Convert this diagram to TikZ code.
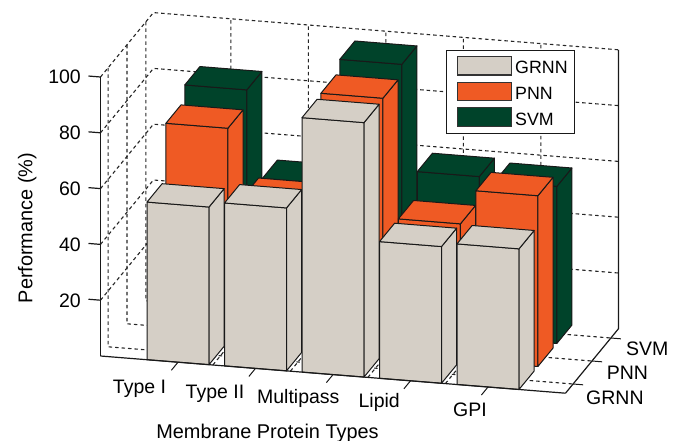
\documentclass[tikz,border=0pt]{standalone}
\usepackage{fontspec}
\setmainfont{Liberation Sans}
\definecolor{grnncol}{HTML}{D5CFC6}
\definecolor{pnncol}{HTML}{EF5A24}
\definecolor{svmcol}{HTML}{00432A}
\tikzset{
  gridline/.style={draw=black!85, line width=1.1pt, dash pattern=on 3.5pt off 3pt},
  axisline/.style={draw=black!90, line width=1.2pt},
  barface/.style={draw=black!90, line width=1pt, line join=round},
  ticklabel/.style={font=\fontsize{19.5}{22}\selectfont, inner sep=0pt},
  titlelabel/.style={font=\fontsize{19.9}{23}\selectfont, inner sep=0pt},
  legendlabel/.style={font=\fontsize{17.8}{20}\selectfont, inner sep=0pt},
  swatch/.style={draw=black!80, line width=1.1pt},
}
% one 3-D bar: #1 category position, #2 depth position, #3 height, #4 colour
\newcommand{\barbox}[4]{%
  \pgfmathsetmacro{\xa}{#1-0.4}\pgfmathsetmacro{\xb}{#1+0.4}%
  \pgfmathsetmacro{\ya}{#2-0.4}\pgfmathsetmacro{\yb}{#2+0.4}%
  \filldraw[barface, fill=#4] (\xa,\ya,0) -- (\xb,\ya,0) -- (\xb,\ya,#3) -- (\xa,\ya,#3) -- cycle;
  \filldraw[barface, fill=#4] (\xb,\ya,0) -- (\xb,\yb,0) -- (\xb,\yb,#3) -- (\xb,\ya,#3) -- cycle;
  \filldraw[barface, fill=#4] (\xa,\ya,#3) -- (\xb,\ya,#3) -- (\xb,\yb,#3) -- (\xa,\yb,#3) -- cycle;
}
\begin{document}
\begin{tikzpicture}
\useasboundingbox (0,0) rectangle (685pt,-441pt);
\begin{scope}[shift={(89.16pt,-369.8pt)}, x={(77.5pt,-6.2pt)}, y={(18.9pt,23pt)}, z={(0pt,2.79pt)}]
  % grid on the left wall, back wall and floor
  \foreach \h in {20,40,60,80,100} {
    \draw[gridline] (0,0.6,\h) -- (0,3.4,\h) -- (6,3.4,\h);
  }
  \foreach \s in {1,2,3} {
    \draw[gridline] (0,\s,100) -- (0,\s,0) -- (6,\s,0);
  }
  \foreach \k in {1,...,5} {
    \draw[gridline] (\k,0.6,0) -- (\k,3.4,0) -- (\k,3.4,100);
  }
  \foreach \k in {1.45,2.45,3.45,4.45} {
    \draw[gridline] (\k,0.6,0) -- (\k,3.4,0);
  }
  % axis edges
  \draw[axisline] (0,0.6,100) -- (0,0.6,0);
  \draw[axisline] (6,0.6,0) -- (6,3.4,0) -- (6,3.4,100);
  % tick marks
  \foreach \h in {20,40,60,80,100} {
    \draw[axisline] (0,0.6,\h) -- (-0.155,0.6,\h);
  }
  \foreach \k in {1,...,5} {
    \draw[axisline, line width=1pt] (\k,0.6,0) -- (\k,0.25,0);
  }
  \foreach \s in {1,2,3} {
    \draw[axisline, line width=1pt] (6,\s,0) -- (6.13,\s,0);
  }
  % SVM row
  \barbox{1}{3}{82}{svmcol}
  \barbox{2}{3}{50.7}{svmcol}
  \barbox{3}{3}{95.6}{svmcol}
  \barbox{4}{3}{57.6}{svmcol}
  \barbox{5}{3}{56.3}{svmcol}
  % PNN row
  \barbox{1}{2}{76.5}{pnncol}
  \barbox{2}{2}{52.5}{pnncol}
  \barbox{3}{2}{91.7}{pnncol}
  \barbox{4}{2}{48.9}{pnncol}
  \barbox{5}{2}{61.2}{pnncol}
  % GRNN row
  \barbox{1}{1}{56.5}{grnncol}
  \barbox{2}{1}{58.4}{grnncol}
  \barbox{3}{1}{91.2}{grnncol}
  \barbox{4}{1}{49}{grnncol}
  \barbox{5}{1}{50.4}{grnncol}
  % front edge of the floor
  \draw[axisline] (0,0.6,0) -- (6,0.6,0);
\end{scope}

% value axis labels
\node[ticklabel, anchor=base east] (z100) at (81pt,-83.8pt) {100};
\node[ticklabel, anchor=base east] (z80) at (81pt,-139.6pt) {80};
\node[ticklabel, anchor=base east] (z60) at (81pt,-195.4pt) {60};
\node[ticklabel, anchor=base east] (z40) at (81pt,-251.2pt) {40};
\node[ticklabel, anchor=base east] (z20) at (81pt,-307pt) {20};
\node[titlelabel, anchor=base, rotate=90] (ztitle) at (32.3pt,-228pt) {Performance (\%)};

% category labels
\node[ticklabel, anchor=base] (cat1) at (139.5pt,-393pt) {Type I};
\node[ticklabel, anchor=base] (cat2) at (215pt,-398pt) {Type II};
\node[ticklabel, anchor=base] (cat3) at (298.3pt,-403pt) {Multipass};
\node[ticklabel, anchor=base] (cat4) at (379.2pt,-407.7pt) {Lipid};
\node[ticklabel, anchor=base] (cat5) at (470pt,-416.7pt) {GPI};
\node[titlelabel, anchor=base] (xtitle) at (267.5pt,-438.3pt) {Membrane Protein Types};

% depth axis labels
\node[ticklabel, anchor=base west] (dsvm) at (626pt,-355pt) {SVM};
\node[ticklabel, anchor=base west] (dpnn) at (606.7pt,-379.3pt) {PNN};
\node[ticklabel, anchor=base west] (dgrnn) at (586pt,-404.3pt) {GRNN};

% legend
\draw[fill=white, draw=black!90, line width=1.3pt] (446.7pt,-50.7pt) rectangle (574.3pt,-133.3pt);
\filldraw[swatch, fill=grnncol] (457.3pt,-56.7pt) rectangle (511.7pt,-75pt);
\filldraw[swatch, fill=pnncol] (457.3pt,-82.3pt) rectangle (511.7pt,-100.7pt);
\filldraw[swatch, fill=svmcol] (457.3pt,-107.7pt) rectangle (511.7pt,-126.7pt);
\node[legendlabel, anchor=base west] (lgrnn) at (515pt,-74pt) {GRNN};
\node[legendlabel, anchor=base west] (lpnn) at (515pt,-99.5pt) {PNN};
\node[legendlabel, anchor=base west] (lsvm) at (515pt,-125.5pt) {SVM};
\end{tikzpicture}
\end{document}
